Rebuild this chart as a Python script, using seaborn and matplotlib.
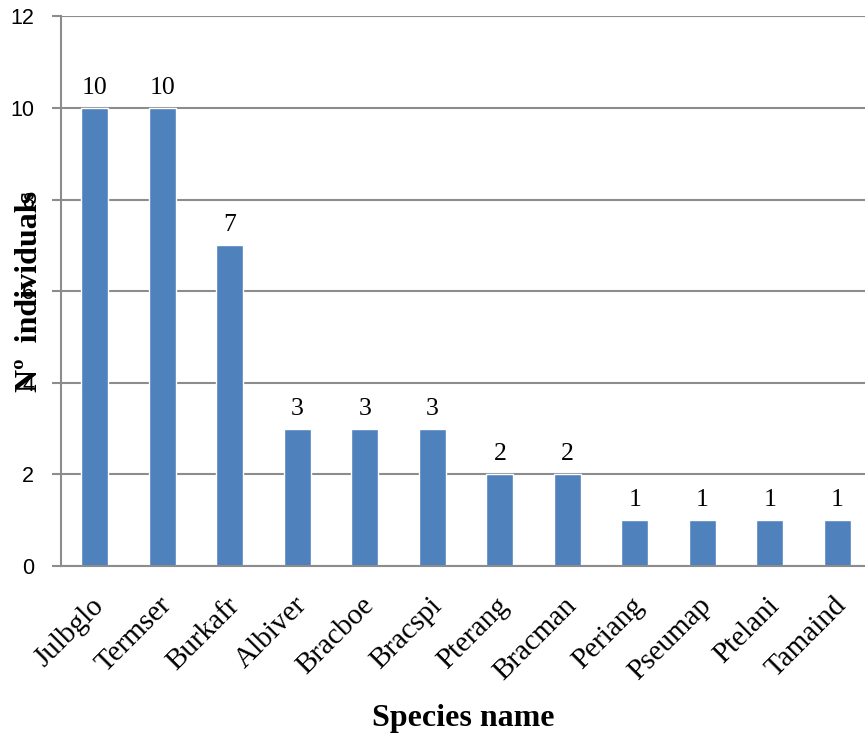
import matplotlib
matplotlib.use("Agg")
import matplotlib.pyplot as plt
import matplotlib.transforms as mtransforms
import seaborn as sns
import pandas as pd

# Species abundance (number of individuals per species)
species = ["Julbglo", "Termser", "Burkafr", "Albiver", "Bracboe", "Bracspi",
           "Pterang", "Bracman", "Periang", "Pseumap", "Ptelani", "Tamaind"]
counts = [10, 10, 7, 3, 3, 3, 2, 2, 1, 1, 1, 1]
y_ticks = [0, 2, 4, 6, 8, 10, 12]

df = pd.DataFrame({"species": species, "count": counts})

sns.set_theme(style="white")
serif = ["Liberation Serif", "DejaVu Serif"]
sans = ["Liberation Sans", "DejaVu Sans"]

fig = plt.figure(figsize=(8.65, 7.35), dpi=100)
fig.patch.set_facecolor("white")
ax = fig.add_axes([0.0708, 0.2299, 0.9364, 0.7478])
ax.set_facecolor("none")

sns.barplot(data=df, x="species", y="count", color="#4f81bd", saturation=1,
            width=0.4, ax=ax, zorder=3)

grid_c = "#8c8c8c"
ax.set_ylim(0, 12)
ax.set_yticks(y_ticks)
ax.yaxis.grid(True, color=grid_c, linewidth=1.5, zorder=0)
ax.xaxis.grid(False)
for s in ("top", "right"):
    ax.spines[s].set_visible(False)
for s in ("left", "bottom"):
    ax.spines[s].set_color(grid_c)
    ax.spines[s].set_linewidth(1.5)
    ax.spines[s].set_zorder(4)

ax.tick_params(axis="y", left=True, length=6.5, width=1.5, color=grid_c,
               pad=13, labelsize=15.5, labelcolor="black")
ax.tick_params(axis="x", bottom=False, pad=13)
for lbl in ax.get_yticklabels():
    lbl.set_fontfamily(sans)

offset = mtransforms.ScaledTranslation(-4 / 100, 0, fig.dpi_scale_trans)
for lbl in ax.get_xticklabels():
    lbl.set_rotation(45)
    lbl.set_ha("right")
    lbl.set_va("top")
    lbl.set_rotation_mode("anchor")
    lbl.set_fontfamily(serif)
    lbl.set_fontsize(21)
    lbl.set_color("black")
    lbl.set_transform(lbl.get_transform() + offset)

for cont in ax.containers:
    ax.bar_label(cont, labels=[f"{v:g}" for v in counts], padding=6.5,
                 fontsize=18.5, fontfamily=serif, color="black")

ax.set_xlabel("Species name", fontsize=23, fontweight="bold",
              fontfamily=serif, color="black")
ax.xaxis.set_label_coords((463 - 61.25) / 810, (566 - 718) / 549.6)
ax.xaxis.label.set_va("center")

ax.set_ylabel("Nº  individuals", fontsize=23, fontweight="bold",
              fontfamily=serif, color="black")
ax.yaxis.set_label_coords((30 - 61.25) / 810, (566 - 291) / 549.6)
ax.yaxis.label.set_va("center")
ax.yaxis.label.set_ha("center")

fig.savefig("out.png", dpi=100, facecolor="white")
